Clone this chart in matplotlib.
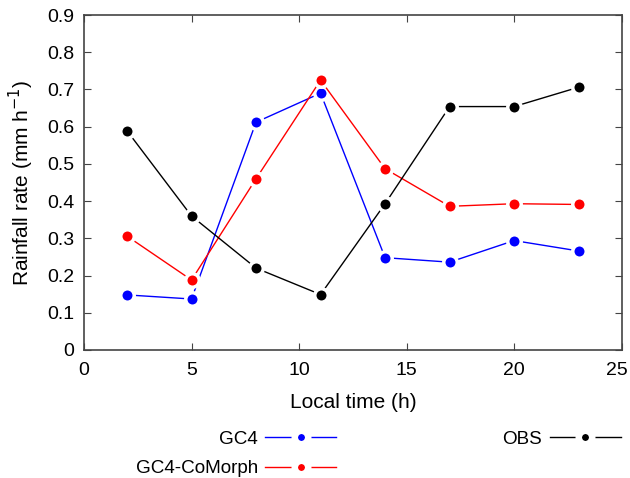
import matplotlib
matplotlib.use("Agg")
import matplotlib.pyplot as plt
import matplotlib.transforms as mtransforms
from matplotlib.lines import Line2D

plt.rcParams['font.family'] = ['Liberation Sans', 'DejaVu Sans']
plt.rcParams['font.size'] = 14

hours = [2, 5, 8, 11, 14, 17, 20, 23]
gc4 = [0.148, 0.137, 0.612, 0.690, 0.248, 0.236, 0.294, 0.266]
comorph = [0.306, 0.188, 0.460, 0.725, 0.487, 0.386, 0.393, 0.391]
obs = [0.589, 0.360, 0.220, 0.149, 0.393, 0.654, 0.654, 0.706]

series = [("GC4", gc4, "#0000ff"), ("GC4-CoMorph", comorph, "#ff0000"), ("OBS", obs, "#000000")]

fig = plt.figure(figsize=(6.3, 4.78), dpi=100)
ax = fig.add_axes([0.1333, 0.2678, 0.8535, 0.7008])

for name, vals, col in series:
    ax.plot(hours, vals, color=col, lw=1.0, marker='o', ms=9.7, mew=2.5,
            mfc=col, mec='white', zorder=3)

ax.set_xlim(0, 25)
ax.set_ylim(0, 0.9)
ax.set_xticks([0, 5, 10, 15, 20, 25])
ax.set_yticks([0, 0.1, 0.2, 0.3, 0.4, 0.5, 0.6, 0.7, 0.8, 0.9])
ax.set_yticklabels(["0", "0.1", "0.2", "0.3", "0.4", "0.5", "0.6", "0.7", "0.8", "0.9"])
ax.tick_params(direction='in', top=True, right=True, length=5, width=0.8,
               color='#444444', labelsize=14)
ax.tick_params(axis='x', pad=9)
ax.tick_params(axis='y', pad=7)
for s in ax.spines.values():
    s.set_color('#444444')
    s.set_linewidth(1.2)
ax.set_xlabel("Local time (h)", fontsize=15, labelpad=10)
ax.set_ylabel("Rainfall rate (mm h$^{-1}$)", fontsize=15, labelpad=8)

# shift last x tick label slightly left so it stays inside the figure
last = ax.get_xticklabels()[-1]
last.set_transform(last.get_transform() + mtransforms.ScaledTranslation(-5 / 100, 0, fig.dpi_scale_trans))

handles = []
labels = []
for name, vals, col in series:
    handles.append(Line2D([], [], color=col, lw=1.0, marker='o', ms=9.7, mew=4.7,
                          mfc=col, mec='white'))
    labels.append(name)
handles.append(Line2D([], [], color='none'))
labels.append("")

fig.legend(handles, labels, ncol=2, loc='upper right', bbox_to_anchor=(0.985, 0.0995),
           frameon=False, markerfirst=False, handlelength=3.75, handletextpad=0.4,
           columnspacing=8.8, labelspacing=0.66, borderpad=0, borderaxespad=0,
           fontsize=13.6)

fig.savefig("out.png", dpi=100)
